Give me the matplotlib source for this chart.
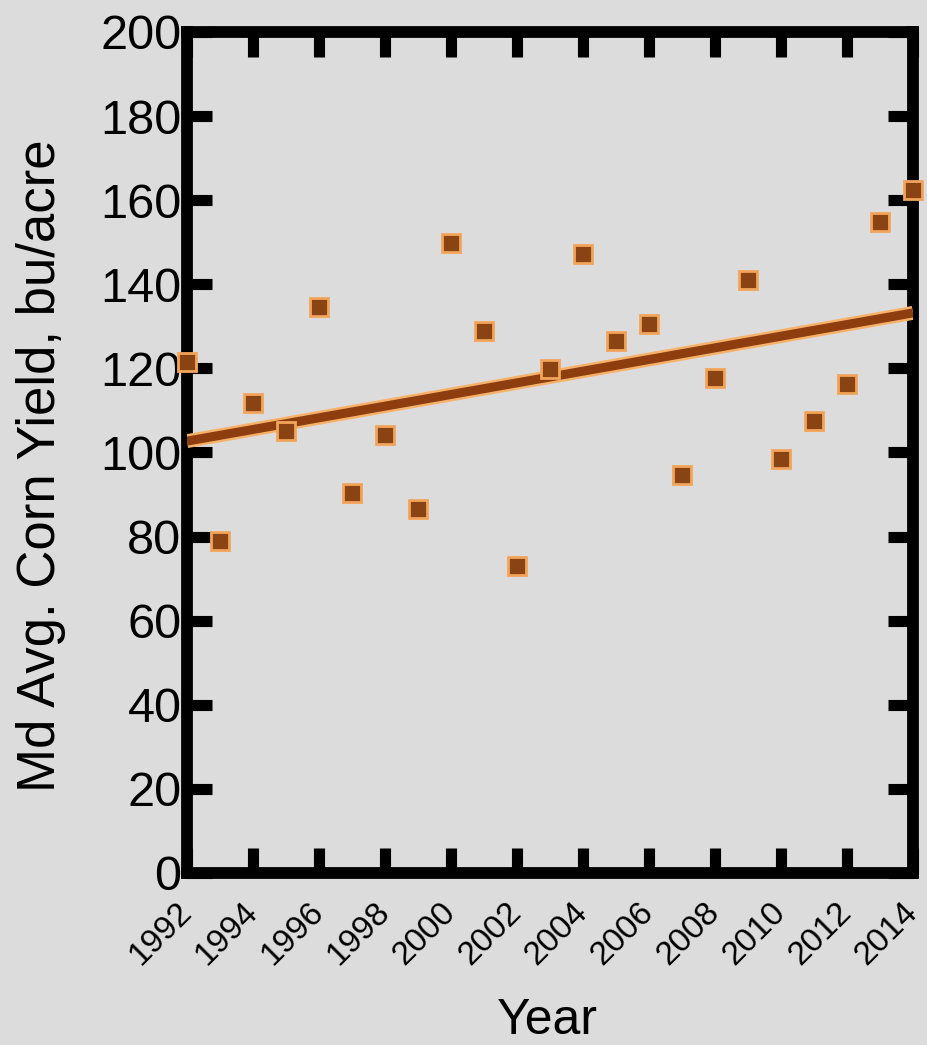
import numpy as np
import matplotlib
matplotlib.use("Agg")
import matplotlib.pyplot as plt

years = [1992, 1993, 1994, 1995, 1996, 1997, 1998, 1999, 2000, 2001, 2002, 2003,
         2004, 2005, 2006, 2007, 2008, 2009, 2010, 2011, 2012, 2013, 2014]
yields = [121.5, 79, 111.8, 105, 134.6, 90.4, 104.2, 86.6, 149.8, 129, 73, 119.9,
          147.2, 126.5, 130.6, 94.7, 117.7, 141, 98.5, 107.5, 116.3, 154.8, 162.4]
trend_years = [1992, 2014]
trend_values = [102.7, 133.2]
xticks = list(range(1992, 2015, 2))
yticks = list(range(0, 201, 20))

bg = "#dcdcdc"
plt.rcParams['font.family'] = ['Liberation Sans', 'DejaVu Sans']

fig = plt.figure(figsize=(9.27, 10.45), dpi=100, facecolor=bg)
ax = fig.add_axes([0.2017, 0.1646, 0.9849 - 0.2017, 0.9694 - 0.1646])
ax.set_facecolor(bg)

ax.plot(trend_years, trend_values, color="#f6b26b", lw=10, solid_capstyle='butt', zorder=3)
ax.plot(trend_years, trend_values, color="#8e3d0e", lw=6.5, solid_capstyle='butt', zorder=4)
ax.plot(years, yields, ls='none', marker='s', ms=13, mfc="#8a4414", mec="#f2a55a",
        mew=2, zorder=5, clip_on=False)

ax.set_xlim(1992, 2014)
ax.set_ylim(0, 200)
ax.set_xticks(xticks)
ax.set_yticks(yticks)
ax.set_yticklabels([str(v) for v in yticks], fontsize=35)
ax.set_xticklabels([str(v) for v in xticks], fontsize=24, rotation=45, ha='right',
                   va='center', rotation_mode='anchor')

ax.tick_params(axis='both', which='major', direction='in', length=18, width=8,
               top=True, right=True, color='black')
ax.tick_params(axis='y', pad=4)
ax.tick_params(axis='x', pad=25)
for s in ax.spines.values():
    s.set_linewidth(8.5)
    s.set_color('black')
    s.set_zorder(2)

ax.set_ylabel("Md Avg. Corn Yield, bu/acre", fontsize=38)
ax.yaxis.set_label_coords(-0.166, 0.484)
ax.set_xlabel("Year", fontsize=36)
ax.xaxis.set_label_coords(0.497, -0.149)

fig.savefig("out.png", dpi=100, facecolor=bg)
